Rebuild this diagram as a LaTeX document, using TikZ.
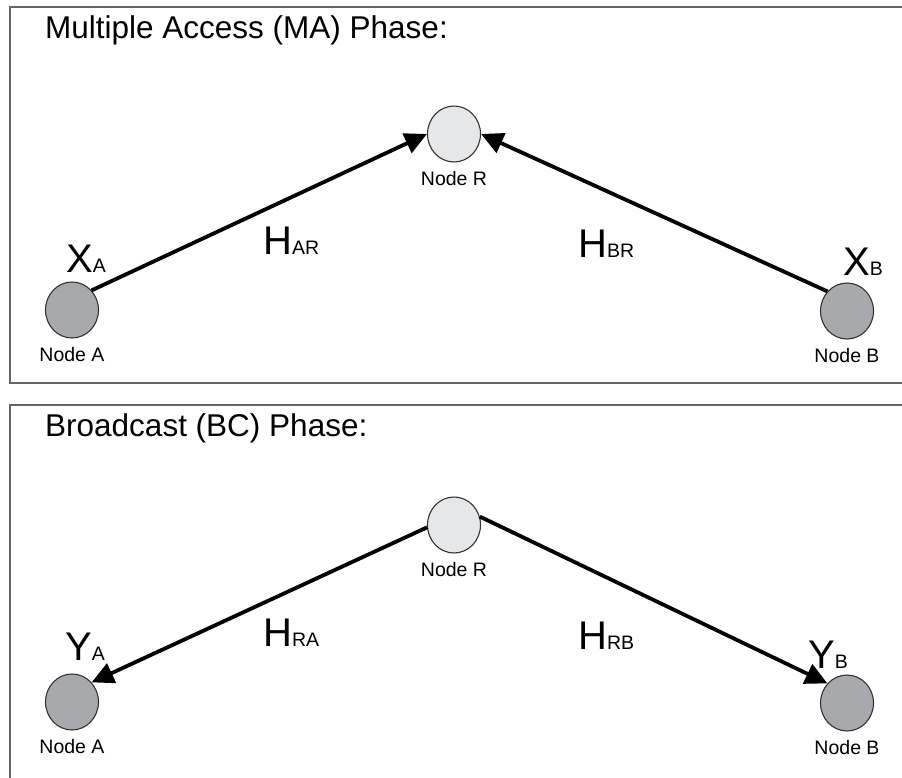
\documentclass[tikz,border=0pt]{standalone}
\usepackage{fontspec}
\setmainfont{Liberation Sans}
\usetikzlibrary{arrows.meta,positioning,shapes.geometric}

\definecolor{relaygray}{HTML}{E6E7E8}
\definecolor{usergray}{HTML}{A7A9AC}
\newcommand{\chsub}[1]{{\fontsize{19.5}{22}\selectfont #1}}

\begin{document}
\begin{tikzpicture}[x=1pt, y=-1pt,
  title/.style={font=\fontsize{31.5}{36}\selectfont, anchor=base west, inner sep=0pt},
  station/.style={ellipse, draw=black!80, line width=1.1pt,
    minimum width=53pt, minimum height=56pt, inner sep=0pt},
  relay/.style={station, fill=relaygray},
  user/.style={station, fill=usergray},
  lbl/.style={font=\fontsize{19.5}{22}\selectfont, inner sep=0pt},
  sym/.style={font=\fontsize{40}{44}\selectfont, anchor=base west, inner sep=0pt},
  arr/.style={-{Triangle[length=22pt, width=21pt]}, line width=3.8pt},
  frame/.style={draw=black!60, line width=1.5pt}
]
  \useasboundingbox (0,0) rectangle (902,777);

  % multiple access phase
  \draw[frame] (10,7) rectangle (914,383);
  \node[title] (ttlma) at (45,38) {Multiple Access (MA) Phase:};
  \node[relay] (rma) at (454,134) {};
  \node[user] (ama) at (72,310) {};
  \node[user] (bma) at (847,311) {};
  \node[lbl, below=9pt of rma] (nrma) {Node R};
  \node[lbl, below=9pt of ama] (nama) {Node A};
  \node[lbl, below=9pt of bma] (nbma) {Node B};
  \node[sym] (xa) at (66,272) {X\chsub{A}};
  \node[sym] (xb) at (843,275) {X\chsub{B}};
  \node[sym] (har) at (263,254) {H\chsub{AR}};
  \node[sym] (hbr) at (578,257) {H\chsub{BR}};

  \draw[arr] (ama.45) -- (rma.west);
  \draw[arr] (bma.135) -- (rma.east);

  % broadcast phase
  \draw[frame] (10,405) rectangle (914,790);
  \node[title] (ttlbc) at (45,436) {Broadcast (BC) Phase:};
  \node[relay] (rbc) at (454,525) {};
  \node[user] (abc) at (72,702) {};
  \node[user] (bbc) at (847,703) {};
  \node[lbl, below=9pt of rbc] (nrbc) {Node R};
  \node[lbl, below=9pt of abc] (nabc) {Node A};
  \node[lbl, below=9pt of bbc] (nbbc) {Node B};
  \node[sym] (ya) at (65,660) {Y\chsub{A}};
  \node[sym] (yb) at (808,668) {Y\chsub{B}};
  \node[sym] (hra) at (263,646) {H\chsub{RA}};
  \node[sym] (hrb) at (578,649) {H\chsub{RB}};

  \draw[arr] (rbc.185) -- (abc.45);
  \draw[arr] (rbc.18) -- (bbc.135);
\end{tikzpicture}
\end{document}
